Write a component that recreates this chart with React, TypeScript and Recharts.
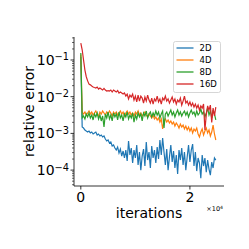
import React from 'react';
import { LineChart, Line, XAxis, YAxis, Legend } from 'recharts';

const iterations = [
  0, 250, 500, 750, 1000, 1250, 1500, 1750, 2000, 2250,
  2500, 2750, 3000, 3250, 3500, 3750, 4000, 4250, 4500, 4750,
  5000, 5250, 5500, 5750, 6000, 6250, 6500, 6750, 7000, 7250,
  7500, 7750, 8000, 8250, 8500, 8750, 9000, 9250, 9500, 9750,
  10000, 10250, 10500, 10750, 11000, 11250, 11500, 11750, 12000, 12250,
  12500, 12750, 13000, 13250, 13500, 13750, 14000, 14250, 14500, 14750,
  15000, 15250, 15500, 15750, 16000, 16250, 16500, 16750, 17000, 17250,
  17500, 17750, 18000, 18250, 18500, 18750, 19000, 19250, 19500, 19750,
  20000, 20250, 20500, 20750, 21000, 21250, 21500, 21750, 22000, 22250,
  22500, 22750, 23000, 23250, 23500, 23750, 24000, 24250, 24500, 24750,
];

const err2D = [
  0.12, 0.00149, 0.0014, 0.00124, 0.00116, 0.00109, 0.00116, 0.00103, 0.00109, 0.000963,
  0.00103, 0.00109, 0.000904, 0.000963, 0.000849, 0.000904, 0.000798, 0.000849, 0.000704, 0.000621,
  0.000661, 0.000547, 0.000583, 0.000454, 0.000483, 0.0004, 0.000353, 0.000426, 0.000292, 0.000376,
  0.000242, 0.000331, 0.000214, 0.000353, 0.000177, 0.000621, 0.000258, 0.0004, 0.000156, 0.000353,
  0.000214, 0.000483, 0.000138, 0.000311, 0.0001, 0.000242, 0.000376, 0.000129, 0.000583, 0.000188,
  0.000311, 0.000114, 0.000454, 0.000214, 0.000353, 0.000156, 0.000426, 0.000201, 0.000661, 0.000258,
  0.000749, 0.000311, 0.000138, 0.000376, 0.0001, 0.000227, 0.000483, 0.000166, 0.000331, 0.000114,
  0.000258, 0.000078, 0.000353, 0.000188, 0.0004, 0.000138, 0.000311, 0.0001, 0.000227, 0.000483,
  0.000166, 0.000353, 0.000514, 0.000129, 0.000311, 0.0000941, 0.000214, 0.000156, 0.0000606, 0.000258,
  0.000129, 0.000214, 0.0000884, 0.000188, 0.000107, 0.0000732, 0.000166, 0.000114, 0.000214, 0.000188,
];

const err4D = [
  0.14, 0.0038, 0.00338, 0.00383, 0.00317, 0.0036, 0.00408, 0.00338, 0.00383, 0.00317,
  0.0036, 0.00408, 0.00338, 0.00298, 0.00383, 0.00338, 0.00408, 0.0036, 0.00317, 0.00383,
  0.00338, 0.00408, 0.0036, 0.00298, 0.00383, 0.00338, 0.00383, 0.00317, 0.0036, 0.00408,
  0.00338, 0.00383, 0.00298, 0.0036, 0.00408, 0.00338, 0.00383, 0.00317, 0.0036, 0.00298,
  0.00383, 0.00338, 0.00408, 0.00317, 0.0036, 0.00298, 0.00338, 0.00383, 0.00317, 0.0028,
  0.00338, 0.00298, 0.00263, 0.00317, 0.00247, 0.0028, 0.00232, 0.00263, 0.00204, 0.00247,
  0.00132, 0.00218, 0.00247, 0.00204, 0.00232, 0.00192, 0.00218, 0.0018, 0.00204, 0.00159,
  0.00192, 0.00169, 0.0014, 0.0018, 0.00149, 0.00169, 0.00132, 0.00159, 0.00124, 0.00149,
  0.00116, 0.0014, 0.00103, 0.00132, 0.00116, 0.0014, 0.000963, 0.000798, 0.00109, 0.00132,
  0.000904, 0.00116, 0.0014, 0.00103, 0.00124, 0.000849, 0.00109, 0.00169, 0.000963, 0.000661,
];

const err8D = [
  0.155, 0.00263, 0.00298, 0.00247, 0.00338, 0.0028, 0.0036, 0.00263, 0.00317, 0.00232,
  0.00338, 0.0028, 0.0036, 0.00247, 0.00317, 0.00218, 0.00298, 0.00149, 0.00338, 0.00263,
  0.00383, 0.00247, 0.00317, 0.00218, 0.0036, 0.0028, 0.00338, 0.00232, 0.00383, 0.00263,
  0.00317, 0.00218, 0.00338, 0.0028, 0.00383, 0.00247, 0.00317, 0.00263, 0.0036, 0.00204,
  0.00317, 0.00247, 0.0036, 0.0028, 0.00338, 0.00218, 0.0036, 0.00298, 0.00408, 0.00263,
  0.00338, 0.00383, 0.0028, 0.0036, 0.00298, 0.00408, 0.00317, 0.00383, 0.00263, 0.00338,
  0.00408, 0.0014, 0.00338, 0.00383, 0.00298, 0.0036, 0.00434, 0.00317, 0.00383, 0.0028,
  0.0036, 0.00434, 0.00317, 0.00383, 0.00298, 0.0036, 0.00408, 0.00317, 0.00383, 0.0028,
  0.0036, 0.00434, 0.00338, 0.00383, 0.00298, 0.00408, 0.00317, 0.0036, 0.00462, 0.00338,
  0.00383, 0.0028, 0.0036, 0.00492, 0.00317, 0.00408, 0.00263, 0.00434, 0.00338, 0.00232,
];

const err16D = [
  0.29, 0.19, 0.1, 0.053, 0.035, 0.027, 0.022, 0.021, 0.0196, 0.0184,
  0.0178, 0.0173, 0.0184, 0.0162, 0.0173, 0.0162, 0.0152, 0.0168, 0.0152, 0.0143,
  0.0147, 0.0143, 0.0152, 0.0134, 0.0152, 0.0143, 0.0134, 0.0147, 0.0126, 0.0134,
  0.0126, 0.0118, 0.0126, 0.0104, 0.0118, 0.0087, 0.0111, 0.0098, 0.0118, 0.0081,
  0.0104, 0.0072, 0.0111, 0.0076, 0.0104, 0.0092, 0.0067, 0.0098, 0.0076, 0.0111,
  0.0081, 0.0067, 0.0092, 0.0063, 0.0087, 0.0076, 0.0104, 0.0072, 0.0087, 0.0063,
  0.0092, 0.0081, 0.0104, 0.0076, 0.0087, 0.0067, 0.0081, 0.0098, 0.0072, 0.0087,
  0.0063, 0.0081, 0.0072, 0.0092, 0.0059, 0.0076, 0.0104, 0.0067, 0.0076, 0.0059,
  0.0072, 0.0056, 0.0067, 0.0052, 0.0063, 0.0049, 0.0059, 0.0043, 0.0056, 0.0049,
  0.0063, 0.00124, 0.0032, 0.0056, 0.0043, 0.0059, 0.002, 0.0049, 0.003, 0.0052,
];

const seriesKeys = ['d2', 'd4', 'd8', 'd16'];
const seriesNames = ['2D', '4D', '8D', '16D'];
const seriesColors = ['#1f77b4', '#ff7f0e', '#2ca02c', '#d62728'];

const xTicks = [0, 20000];
const xDomain = [-1250, 26250];
const yDomain = [3.69e-5, 0.4233];
const yMajorTicks = [0.0001, 0.001, 0.01, 0.1];
const yMajorExp = ['\u22124', '\u22123', '\u22122', '\u22121'];
const yMinorTicks = [
  0.00004, 0.00005, 0.00006, 0.00007, 0.00008, 0.00009,
  0.0002, 0.0003, 0.0004, 0.0005, 0.0006, 0.0007, 0.0008, 0.0009,
  0.002, 0.003, 0.004, 0.005, 0.006, 0.007, 0.008, 0.009,
  0.02, 0.03, 0.04, 0.05, 0.06, 0.07, 0.08, 0.09,
  0.2, 0.3, 0.4,
];

const data = iterations.map((it, i) => ({
  it,
  d2: err2D[i],
  d4: err4D[i],
  d8: err8D[i],
  d16: err16D[i],
}));

const FONT = 'DejaVu Sans, sans-serif';

const YTick = (props: any) => {
  const { x, y, payload } = props;
  const idx = yMajorTicks.indexOf(payload.value);
  if (idx < 0) {
    return <line x1={x - 2} x2={x} y1={y} y2={y} stroke="#000" strokeWidth={0.6} />;
  }
  return (
    <g>
      <line x1={x - 3.5} x2={x} y1={y} y2={y} stroke="#000" strokeWidth={0.8} />
      <text x={x - 5} y={y + 5} textAnchor="end" fontSize={14} fontFamily={FONT} fill="#000">
        10
        <tspan dy={-4.6} fontSize={9.8}>{yMajorExp[idx]}</tspan>
      </text>
    </g>
  );
};

const XLabel = () => (
  <g>
    <text x={149} y={218.3} textAnchor="middle" fontSize={14} fontFamily={FONT} fill="#000">
      iterations
    </text>
    <text x={223} y={211} textAnchor="end" fontSize={6.5} fontFamily={FONT} fill="#000">
      {'\u00d710'}
      <tspan dy={-2.5} fontSize={4.6}>4</tspan>
    </text>
  </g>
);

const YLabel = () => (
  <text
    x={33.5}
    y={111.5}
    textAnchor="middle"
    fontSize={14}
    fontFamily={FONT}
    fill="#000"
    transform="rotate(-90, 33.5, 111.5)"
  >
    relative error
  </text>
);

const LegendBox = () => (
  <svg width={48} height={52} style={{ display: 'block' }}>
    <rect x={0.5} y={0.5} width={47} height={51} rx={2} ry={2} fill="#fff" fillOpacity={0.8} stroke="#cccccc" strokeWidth={0.8} />
    {seriesNames.map((name, i) => {
      const cy = 7 + 12 * i;
      return (
        <g key={name}>
          <line x1={3.5} x2={20.5} y1={cy} y2={cy} stroke={seriesColors[i]} strokeWidth={1.3} />
          <text x={26.5} y={cy + 3.1} fontSize={8.5} fontFamily={FONT} fill="#000">
            {name}
          </text>
        </g>
      );
    })}
  </svg>
);

export default function App() {
  return (
    <div style={{ position: 'absolute', left: 0, top: 0, width: 249, height: 249, background: '#fff' }}>
      <LineChart
        width={249}
        height={249}
        data={data}
        margin={{ top: 37, right: 25, bottom: 33, left: 0 }}
      >
        <XAxis
          dataKey="it"
          type="number"
          domain={xDomain}
          ticks={xTicks}
          allowDataOverflow
          height={30}
          tickSize={3.5}
          tickMargin={3}
          tickFormatter={(v: number) => String(v / 10000)}
          tick={{ fill: '#000', fontSize: 14, fontFamily: FONT }}
          tickLine={{ stroke: '#000', strokeWidth: 0.8 }}
          axisLine={{ stroke: '#000', strokeWidth: 0.8 }}
          label={<XLabel />}
        />
        <XAxis
          xAxisId="top"
          orientation="top"
          dataKey="it"
          type="number"
          domain={xDomain}
          allowDataOverflow
          height={0}
          tick={false}
          tickLine={false}
          axisLine={{ stroke: '#000', strokeWidth: 0.8 }}
        />
        <YAxis
          type="number"
          scale="log"
          domain={yDomain}
          allowDataOverflow
          ticks={[...yMinorTicks, ...yMajorTicks]}
          interval={0}
          width={74}
          tickSize={0}
          tickMargin={0}
          tickLine={false}
          tick={<YTick />}
          axisLine={{ stroke: '#000', strokeWidth: 0.8 }}
          label={<YLabel />}
        />
        <YAxis
          yAxisId="right"
          orientation="right"
          type="number"
          scale="log"
          domain={yDomain}
          allowDataOverflow
          width={0}
          tick={false}
          tickLine={false}
          axisLine={{ stroke: '#000', strokeWidth: 0.8 }}
        />
        {seriesKeys.map((k, i) => (
          <Line
            key={k}
            dataKey={k}
            name={seriesNames[i]}
            stroke={seriesColors[i]}
            strokeWidth={1.2}
            dot={false}
            type="linear"
            isAnimationActive={false}
          />
        ))}
        <Legend
          layout="vertical"
          align="center"
          verticalAlign="middle"
          wrapperStyle={{ top: 41, left: 172.5, width: 48, height: 52 }}
          content={<LegendBox />}
        />
      </LineChart>
    </div>
  );
}
